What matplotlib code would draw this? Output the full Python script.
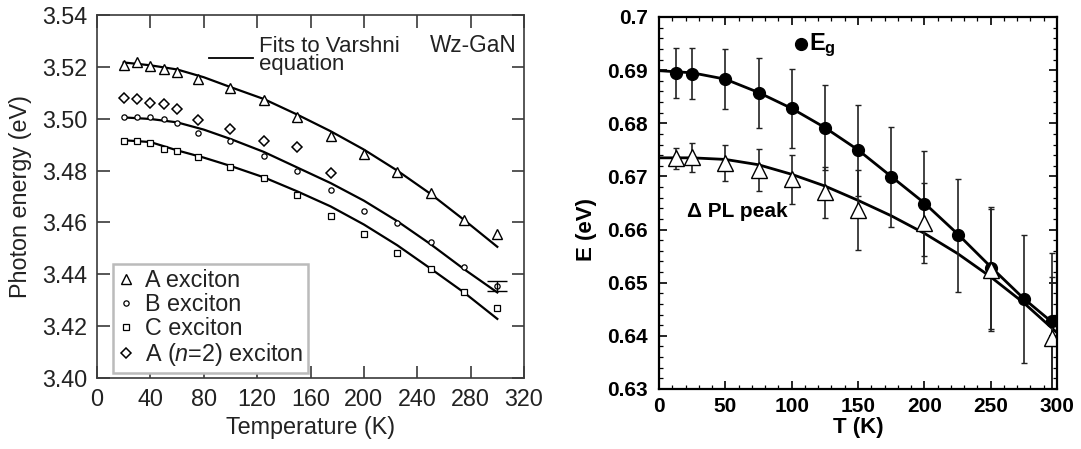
import matplotlib
matplotlib.use("Agg")
import matplotlib.pyplot as plt
from matplotlib.ticker import MultipleLocator

plt.rcParams['font.family'] = ['Liberation Sans', 'DejaVu Sans']
plt.rcParams['mathtext.fontset'] = 'custom'
plt.rcParams['mathtext.rm'] = 'Liberation Sans'
plt.rcParams['mathtext.it'] = 'Liberation Sans:italic'
plt.rcParams['mathtext.bf'] = 'Liberation Sans:bold'

# ---------------- Left panel data (Wz-GaN) ----------------
T_gan = [20, 30, 40, 50, 60, 76, 100, 125, 150, 175, 200, 225, 250, 275, 300]
E_A = [3.5207, 3.5217, 3.5204, 3.5192, 3.5181, 3.5152, 3.5117, 3.5072, 3.5008,
       3.4934, 3.4864, 3.4793, 3.4712, 3.4609, 3.4554]
E_B = [3.5005, 3.5005, 3.5005, 3.4997, 3.4984, 3.4943, 3.4915, 3.4857, 3.4799,
       3.4725, 3.4645, 3.4597, 3.4526, 3.4429, 3.4355]
E_C = [3.4914, 3.4914, 3.4905, 3.4882, 3.4877, 3.4853, 3.4813, 3.4772, 3.4706,
       3.4625, 3.4554, 3.4483, 3.4420, 3.4331, 3.4271]
T_A2 = [20, 30, 40, 50, 60, 76, 100, 125, 150, 175]
E_A2 = [3.5081, 3.5076, 3.5062, 3.5057, 3.5037, 3.4995, 3.4959, 3.4914, 3.4890, 3.4792]
B_err_T = [300]
B_err_E = [3.4355]
B_err = [0.0021]

T_fit_gan = [20, 40, 60, 80, 100, 125, 150, 175, 200, 225, 250, 275, 300]
fit_A = [3.5217, 3.5206, 3.5190, 3.5160, 3.5122, 3.5076, 3.5016, 3.4952, 3.4881,
         3.4800, 3.4710, 3.4610, 3.4506]
fit_B = [3.5005, 3.4999, 3.4986, 3.4958, 3.4922, 3.4872, 3.4812, 3.4752, 3.4684,
         3.4605, 3.4516, 3.4420, 3.4330]
fit_C = [3.4917, 3.4910, 3.4878, 3.4850, 3.4818, 3.4774, 3.4720, 3.4662, 3.4592,
         3.4512, 3.4422, 3.4330, 3.4228]

# ---------------- Right panel data ----------------
T_eg = [12.5, 25, 50, 75, 100, 125, 150, 175, 200, 225, 250, 275, 296]
E_eg = [0.6894, 0.6893, 0.6883, 0.6857, 0.6828, 0.6792, 0.6749, 0.6699, 0.6649,
        0.6589, 0.6527, 0.6469, 0.6428]
err_eg = [0.0047, 0.0048, 0.0056, 0.0065, 0.0074, 0.0080, 0.0086, 0.0094, 0.0099,
          0.0107, 0.0115, 0.0120, 0.0128]
T_pl = [12.5, 25, 50, 75, 100, 125, 150, 200, 250, 296]
E_pl = [0.6734, 0.6736, 0.6726, 0.6712, 0.6695, 0.6670, 0.6637, 0.6612, 0.6524, 0.6396]
err_pl = [0.0020, 0.0027, 0.0034, 0.0040, 0.0046, 0.0048, 0.0076, 0.0075, 0.0115, 0.0115]

T_fit_r = [0, 25, 50, 75, 100, 125, 150, 175, 200, 225, 250, 275, 300]
fit_eg = [0.6899, 0.6895, 0.6883, 0.6858, 0.6828, 0.6792, 0.6750, 0.6700, 0.6650,
          0.6592, 0.6530, 0.6470, 0.6418]
fit_pl = [0.6735, 0.6735, 0.6732, 0.6722, 0.6704, 0.6682, 0.6655, 0.6626, 0.6593,
          0.6555, 0.6511, 0.6462, 0.6406]

W, H = 1081, 449
fig = plt.figure(figsize=(W / 100, H / 100), dpi=100)

# ================= Left panel =================
axL = fig.add_axes([97 / W, 1 - 378 / H, 427 / W, 363 / H])
fs = 16.8
gray = '#3a3a3a'
tcol = '#222222'
for sp in axL.spines.values():
    sp.set_color(gray)
    sp.set_linewidth(1.2)
axL.set_xlim(0, 320)
axL.set_ylim(3.40, 3.54)
axL.set_xticks(range(0, 321, 40))
axL.set_yticks([3.40, 3.42, 3.44, 3.46, 3.48, 3.50, 3.52, 3.54])
axL.set_yticklabels(['3.40', '3.42', '3.44', '3.46', '3.48', '3.50', '3.52', '3.54'])
axL.tick_params(direction='in', length=9, width=1.2, color=gray, top=True, right=True,
                labelsize=fs, pad=7, labelcolor=tcol)

lw = 1.6
axL.plot(T_fit_gan, fit_A, color='black', lw=lw)
axL.plot(T_fit_gan, fit_B, color='black', lw=lw)
axL.plot(T_fit_gan, fit_C, color='black', lw=lw)

hA, = axL.plot(T_gan, E_A, linestyle='none', marker='^', ms=7, mfc='white', mec='black', mew=1.0)
hB, = axL.plot(T_gan, E_B, linestyle='none', marker='o', ms=3.8, mfc='white', mec='black', mew=0.9)
hC, = axL.plot(T_gan, E_C, linestyle='none', marker='s', ms=4.0, mfc='white', mec='black', mew=0.9)
hD, = axL.plot(T_A2, E_A2, linestyle='none', marker='D', ms=5.5, mfc='white', mec='black', mew=1.1)
axL.errorbar(B_err_T, B_err_E, yerr=B_err, fmt='none', ecolor='black', elinewidth=1.0,
             capsize=7, capthick=1.0)

axL.set_xlabel('Temperature (K)', fontsize=fs, color=tcol)
axL.set_ylabel('Photon energy (eV)', fontsize=fs, color=tcol)
axL.xaxis.set_label_coords(0.5, -0.105)
axL.yaxis.set_label_coords(-0.152, 0.5)

# "Fits to Varshni equation" key
axL.plot([0.262, 0.365], [0.881, 0.881], transform=axL.transAxes, color='black', lw=1.3)
axL.text(0.379, 0.889, 'Fits to Varshni\nequation', transform=axL.transAxes, fontsize=16,
         va='center', ha='left', color=tcol, linespacing=0.78)
axL.text(0.982, 0.915, 'Wz-GaN', transform=axL.transAxes, fontsize=16.3,
         va='center', ha='right', color=tcol)

leg = axL.legend([hA, hB, hC, hD],
                 ['A exciton', 'B exciton', 'C exciton', r'A ($n$=2) exciton'],
                 loc='lower left', bbox_to_anchor=(0.038, 0.014), fontsize=fs,
                 frameon=True, fancybox=False, edgecolor='#bbbbbb', framealpha=1,
                 handlelength=0.7, handletextpad=0.45, labelspacing=0.05,
                 borderpad=0.2, borderaxespad=0.0)
leg.get_frame().set_linewidth(1.8)
for t in leg.get_texts():
    t.set_color(tcol)

# ================= Right panel =================
axR = fig.add_axes([659 / W, 1 - 389 / H, 398 / W, 372 / H])
for sp in axR.spines.values():
    sp.set_color('black')
    sp.set_linewidth(1.6)
axR.set_xlim(0, 300)
axR.set_ylim(0.63, 0.70)
axR.set_xticks(range(0, 301, 50))
axR.set_yticks([0.63, 0.64, 0.65, 0.66, 0.67, 0.68, 0.69, 0.70])
axR.set_yticklabels(['0.63', '0.64', '0.65', '0.66', '0.67', '0.68', '0.69', '0.7'])
axR.xaxis.set_minor_locator(MultipleLocator(10))
axR.yaxis.set_minor_locator(MultipleLocator(0.002))
axR.tick_params(which='major', direction='in', length=6, width=1.2, top=True, right=True,
                labelsize=15, pad=8)
axR.tick_params(axis='x', which='major', pad=6)
axR.tick_params(which='minor', direction='in', length=3, width=0.9, top=True, right=True)
for lab in axR.get_xticklabels() + axR.get_yticklabels():
    lab.set_fontweight('bold')

axR.plot(T_fit_r, fit_eg, color='black', lw=2.0)
axR.plot(T_fit_r, fit_pl, color='black', lw=2.0)
axR.errorbar(T_eg, E_eg, yerr=err_eg, fmt='o', ms=8.5, mfc='black', mec='black',
             ecolor='#222222', elinewidth=1.2, capsize=2, capthick=1.0)
axR.errorbar(T_pl, E_pl, yerr=err_pl, fmt='^', ms=11, mfc='white', mec='black', mew=1.0,
             ecolor='#222222', elinewidth=1.2, capsize=2, capthick=1.0)

axR.set_xlabel('T (K)', fontsize=16, fontweight='bold')
axR.set_ylabel('E (eV)', fontsize=16, fontweight='bold')
axR.xaxis.set_label_coords(0.5, -0.075)
axR.yaxis.set_label_coords(-0.155, 0.43)

axR.plot([0.356], [0.927], transform=axR.transAxes, marker='o', ms=8.5, color='black',
         linestyle='none')
axR.text(0.378, 0.925, r'$\mathbf{E_g}$', transform=axR.transAxes, fontsize=17,
         va='center', ha='left')
axR.text(0.07, 0.478, '\u0394 PL peak', transform=axR.transAxes, fontsize=15,
         fontweight='bold', va='center', ha='left')

fig.savefig('out.png', dpi=100)
